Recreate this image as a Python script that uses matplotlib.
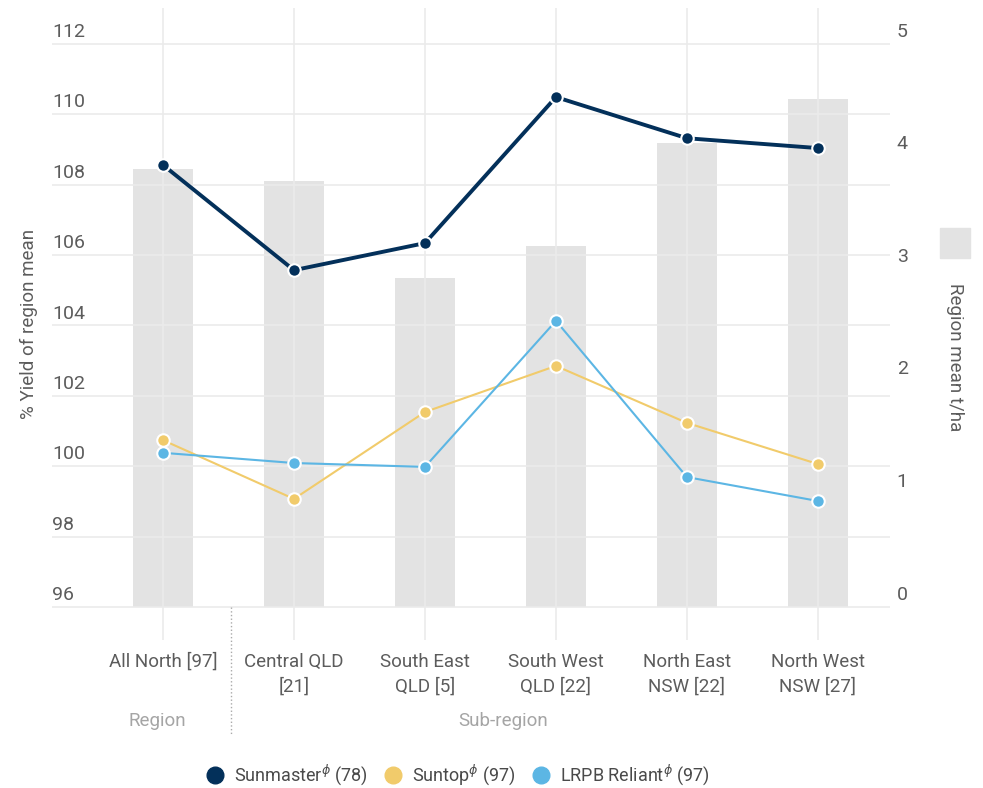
import matplotlib.pyplot as plt
from matplotlib.transforms import blended_transform_factory

plt.rcParams['font.family'] = ['Roboto', 'DejaVu Sans']

# data
regions = ['All North [97]', 'Central QLD\n[21]', 'South East\nQLD [5]',
           'South West\nQLD [22]', 'North East\nNSW [22]', 'North West\nNSW [27]']
region_mean = [3.89, 3.78, 2.92, 3.21, 4.12, 4.51]
sunmaster = [108.56, 105.57, 106.34, 110.49, 109.32, 109.04]
suntop = [100.74, 99.07, 101.54, 102.85, 101.23, 100.06]
reliant = [100.38, 100.09, 99.98, 104.13, 99.69, 99.01]
left_ticks = [96, 98, 100, 102, 104, 106, 108, 110, 112]
right_ticks = [0, 1, 2, 3, 4, 5]

navy = '#03305a'
gold = '#f1cb6b'
sky = '#5cb6e4'
bar_grey = '#e3e3e3'
grid_grey = '#ebebeb'
txt = '#5c5c5c'
fs = 13.5

fig = plt.figure(figsize=(9.83, 7.88), dpi=100)
ax = fig.add_axes([0.0529, 0.1878, 0.8525, 0.802])
ax2 = ax.twinx()
x = list(range(len(regions)))

# bars on the right axis
ax2.bar(x, region_mean, width=0.46, color=bar_grey, zorder=1)
ax2.set_ylim(-0.293, 5.32)
ax2.set_yticks([])
for s in ax2.spines.values():
    s.set_visible(False)

# put the line axis on top
ax.set_zorder(ax2.get_zorder() + 1)
ax.patch.set_visible(False)

ax.set_xlim(-0.847, 5.55)
ax.set_ylim(95.06, 113.02)
ax.set_yticks(left_ticks)
ax.set_yticklabels([])
ax.tick_params(axis='y', length=0)
ax.tick_params(axis='x', length=0, pad=9, labelsize=fs, labelcolor=txt)
ax.set_xticks(x)
ax.set_xticklabels(regions, linespacing=1.45)
ax.grid(True, color=grid_grey, linewidth=1.2)
ax.set_axisbelow(True)
for s in ax.spines.values():
    s.set_visible(False)

mk = dict(marker='o', markersize=9, markeredgecolor='white', markeredgewidth=1.5)
ax.plot(x, sunmaster, color=navy, linewidth=2.8, markerfacecolor=navy, zorder=5, **mk)
ax.plot(x, suntop, color=gold, linewidth=1.5, markerfacecolor=gold, zorder=4, **mk)
ax.plot(x, reliant, color=sky, linewidth=1.5, markerfacecolor=sky, zorder=4, **mk)

# tick labels sitting above the gridlines
ltr = blended_transform_factory(ax.transAxes, ax.transData)
for v in left_ticks:
    ax.text(0.0, v + 0.08, str(v), transform=ltr, ha='left', va='bottom',
            fontsize=14, color=txt)
rtr = blended_transform_factory(ax2.transAxes, ax2.transData)
for v in right_ticks:
    ax2.text(1.008, v + 0.03, str(v), transform=rtr, ha='left', va='bottom',
             fontsize=14, color=txt)

ax.set_ylabel('% Yield of region mean', fontsize=fs, color=txt)
ax.yaxis.set_label_coords(-0.017, 0.5)

# right side legend patch and label
fig.patches.append(plt.Rectangle((940 / 983, 1 - 258 / 788), 30 / 983, 30 / 788,
                                 transform=fig.transFigure, color=bar_grey))
fig.text(955 / 983, 1 - 357 / 788, 'Region mean t/ha', rotation=270,
         ha='center', va='center', fontsize=fs, color=txt)

# group labels and separator
xtr = blended_transform_factory(ax.transData, fig.transFigure)
ax.plot([0.52, 0.52], [1 - 607 / 788, 1 - 735 / 788], transform=xtr,
        color='#aaaaaa', linestyle=':', linewidth=1, clip_on=False)
fig.text(157 / 983, 1 - 721 / 788, 'Region', ha='center', va='center',
         fontsize=fs, color='#a5a5a5')
fig.text(503 / 983, 1 - 721 / 788, 'Sub-region', ha='center', va='center',
         fontsize=fs, color='#a5a5a5')

# bottom legend
h1, = ax.plot([], [], 'o', color=navy, markersize=12)
h2, = ax.plot([], [], 'o', color=gold, markersize=12)
h3, = ax.plot([], [], 'o', color=sky, markersize=12)
fig.legend([h1, h2, h3],
           [r'Sunmaster$^{\phi}$ (78)', r'Suntop$^{\phi}$ (97)', r'LRPB Reliant$^{\phi}$ (97)'],
           loc='center', bbox_to_anchor=(458 / 983, 1 - 775 / 788), ncol=3,
           frameon=False, fontsize=13, labelcolor='#4a4a4a', handletextpad=0.55,
           columnspacing=0.9, handlelength=1.0)

fig.savefig('out.png', dpi=100)
